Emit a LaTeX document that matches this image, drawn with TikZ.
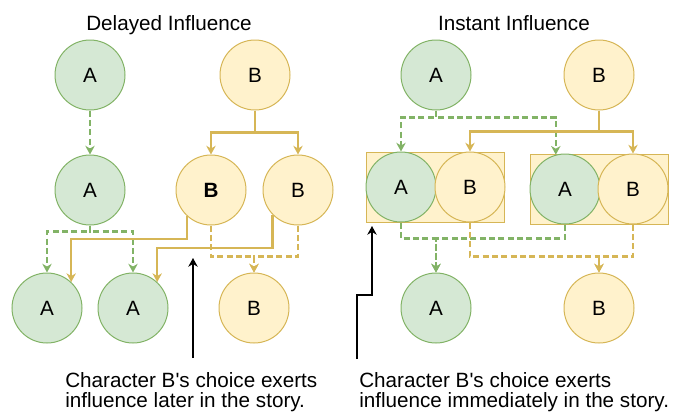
\documentclass[tikz,border=0pt]{standalone}
\usepackage{fontspec}
\setmainfont{Liberation Sans}
\usetikzlibrary{arrows.meta}
\definecolor{agreen}{HTML}{D5E8D4}
\definecolor{agreenline}{HTML}{82B366}
\definecolor{byellow}{HTML}{FFF2CC}
\definecolor{byellowline}{HTML}{D6B656}
\begin{document}
\begin{tikzpicture}[x=0.75pt,y=-0.75pt,
    font=\fontsize{15.5}{15}\selectfont,
    chara/.style={circle,draw=agreenline,fill=agreen,line width=0.75pt,minimum size=52.5pt,inner sep=0pt},
    charb/.style={circle,draw=byellowline,fill=byellow,line width=0.75pt,minimum size=52.5pt,inner sep=0pt},
    pair/.style={rectangle,draw=byellowline,fill=byellow,line width=0.75pt,minimum width=103.5pt,minimum height=52.5pt,inner sep=0pt},
    headtip/.style={-{Stealth[length=6.5pt,width=7pt,inset=2pt]}},
    flowa/.style={headtip,draw=agreenline,line width=1.6pt,dash pattern=on 4.5pt off 2.5pt},
    flowb/.style={headtip,draw=byellowline,line width=1.6pt},
    flowbd/.style={flowb,dash pattern=on 4.5pt off 2.5pt},
    pointer/.style={headtip,draw=black,line width=1.2pt},
    note/.style={anchor=base west,align=left,inner sep=0pt}]
  \useasboundingbox (0,0) rectangle (681,414);
  % delayed influence
  \node[anchor=base] (t1) at (169,30) {Delayed Influence};
  \node[chara] (a1) at (90,75) {A};
  \node[charb] (b1) at (255,75) {B};
  \node[chara] (a2) at (90,190) {A};
  \node[charb] (b2) at (211,190) {\textbf{B}};
  \node[charb] (b3) at (298,190) {B};
  \node[chara] (a3) at (47,308) {A};
  \node[chara] (a4) at (133,308) {A};
  \node[charb] (b4) at (254,308) {B};
  \draw[flowa] (a1) -- (a2);
  \draw[flowb] (b1.south) -- ++(0,22) -| (b2.north);
  \draw[flowb] (b1.south) -- ++(0,22) -| (b3.north);
  \draw[flowa] (a2.south) -- ++(0,6) -| (a3.north);
  \draw[flowa] (a2.south) -- ++(0,6) -| (a4.north);
  \draw[flowb] (b2.-133) -- (b2.-133 |- 0,239) -| (a3.47);
  \draw[flowb] (b3.-136) -- (b3.-136 |- 0,248) -| (a4.47);
  \draw[flowbd] (b2.south) -- ++(0,31) -| (b4.north);
  \draw[flowbd] (b3.south) -- ++(0,31) -| (b4.north);
  \coordinate (tl) at (193,358);
  \coordinate (pl) at (193,258);
  \draw[pointer] (tl) -- (pl);
  \node[note] (n1) at (65,407) {Character B\textquotesingle s choice exerts\\influence later in the story.};
  % instant influence
  \node[anchor=base] (t2) at (514,30) {Instant Influence};
  \node[chara] (a5) at (436,75) {A};
  \node[charb] (b5) at (599,75) {B};
  \node[pair] (p1) at (435,187) {};
  \node[pair] (p2) at (599,189) {};
  \node[chara] (a6) at (401,187) {A};
  \node[charb] (b6) at (470,187) {B};
  \node[chara] (a7) at (565,189) {A};
  \node[charb] (b7) at (633,189) {B};
  \node[chara] (a8) at (436,308) {A};
  \node[charb] (b8) at (599,308) {B};
  \draw[flowa] (a5.south) -- ++(0,7) -| (a6.north);
  \draw[flowa] (a5.south) -- ++(0,7) -| (a7.105);
  \draw[flowb] (b5.south) -- ++(0,21) -| (b6.north);
  \draw[flowb] (b5.south) -- ++(0,21) -| (b7.north);
  \draw[flowa] (a6.south) -- ++(0,16) -| (a8.north);
  \draw[flowa] (a7.south) -- ++(0,14) -| (a8.north);
  \draw[flowbd] (b6.south) -- ++(0,34) -| (b8.north);
  \draw[flowbd] (b7.south) -- ++(0,32) -| (b8.north);
  \coordinate (tr) at (357,359);
  \coordinate (pr) at (372,226);
  \draw[pointer] (tr) -- ++(0,-64) -| (pr);
  \node[note] (n2) at (359,407) {Character B\textquotesingle s choice exerts\\influence immediately in the story.};
\end{tikzpicture}
\end{document}
